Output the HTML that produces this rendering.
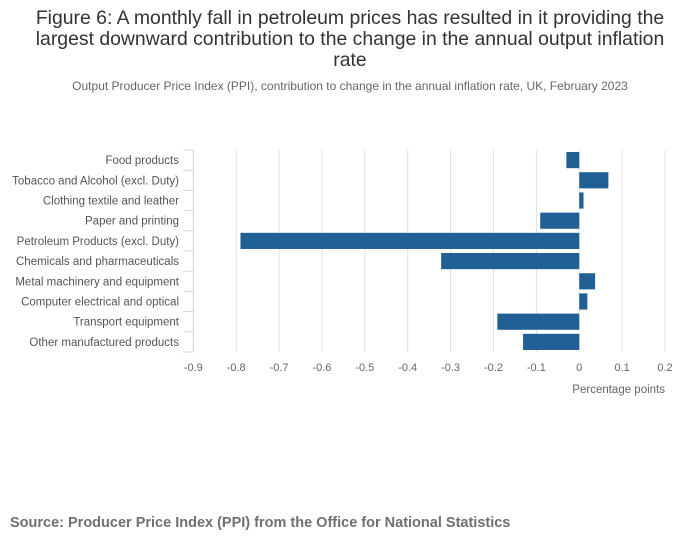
<!DOCTYPE html>
<html><head><meta charset="utf-8"><style>
body{margin:0;background:#fff;width:700px;height:549px;overflow:hidden;font-family:"Liberation Sans",sans-serif;}
</style></head><body>
<svg width="700" height="549" font-family="Liberation Sans, sans-serif">
<text x="350" y="24" text-anchor="middle" font-size="19.4" fill="#333"><tspan x="350">Figure 6: A monthly fall in petroleum prices has resulted in it providing the</tspan><tspan x="350" dy="21">largest downward contribution to the change in the annual output inflation</tspan><tspan x="350" dy="21">rate</tspan></text>
<text x="350" y="90" text-anchor="middle" font-size="12" fill="#666">Output Producer Price Index (PPI), contribution to change in the annual inflation rate, UK, February 2023</text>
<g id="grid"></g><g id="bars"></g><g id="axes"></g>
<text x="665" y="393" text-anchor="end" font-size="11.5" fill="#666">Percentage points</text>
<text x="10" y="527" font-size="14.5" font-weight="bold" fill="#707070">Source: Producer Price Index (PPI) from the Office for National Statistics</text>
</svg>
<script>
const categories=["Food products","Tobacco and Alcohol (excl. Duty)","Clothing textile and leather","Paper and printing","Petroleum Products (excl. Duty)","Chemicals and pharmaceuticals","Metal machinery and equipment","Computer electrical and optical","Transport equipment","Other manufactured products"];
const values=[-0.03,0.068,0.01,-0.091,-0.79,-0.322,0.037,0.019,-0.191,-0.131];
const ticks=[-0.9,-0.8,-0.7,-0.6,-0.5,-0.4,-0.3,-0.2,-0.1,0,0.1,0.2];
const tickLabels=["-0.9","-0.8","-0.7","-0.6","-0.5","-0.4","-0.3","-0.2","-0.1","0","0.1","0.2"];
const NS="http://www.w3.org/2000/svg";
const x0=193.3,x1=665,yTop=150,yBot=352;
const xs=v=>x0+(v+0.9)/1.1*(x1-x0);
const band=(yBot-yTop)/categories.length;
function mk(t,a,p){const e=document.createElementNS(NS,t);for(const k in a)e.setAttribute(k,a[k]);p.appendChild(e);return e;}
const g=document.getElementById('grid'),b=document.getElementById('bars'),ax=document.getElementById('axes');
ticks.forEach((t,i)=>{
 if(i>0){const l=mk('line',{x1:xs(t),x2:xs(t),y1:yTop,y2:yBot,stroke:'#e0e0e0'},g);
 
 }
 const tx=mk('text',{x:xs(t),y:371,'text-anchor':'middle','font-size':11,fill:'#666'},ax);tx.textContent=tickLabels[i];
 
 
});
const al=mk('line',{x1:x0,x2:x0,y1:yTop,y2:yBot,stroke:'#ccd6eb'},ax);


for(let i=0;i<=categories.length;i++){const y=yTop+i*band;const tk=mk('line',{x1:x0-10,x2:x0,y1:y,y2:y,stroke:'#ccd6eb'},ax);
 
 }
categories.forEach((c,i)=>{
 const yc=yTop+(i+0.5)*band;
 const t=mk('text',{x:179,y:yc+4,'text-anchor':'end','font-size':11.5,fill:'#555'},ax);t.textContent=c;
 
 
 const v=values[i];
 const r=mk('rect',{x:Math.min(xs(0),xs(v)),y:yc-band*0.4,width:Math.abs(xs(v)-xs(0)),height:band*0.8,fill:'#206095'},b);
 
 
});
</script>
</body></html>
